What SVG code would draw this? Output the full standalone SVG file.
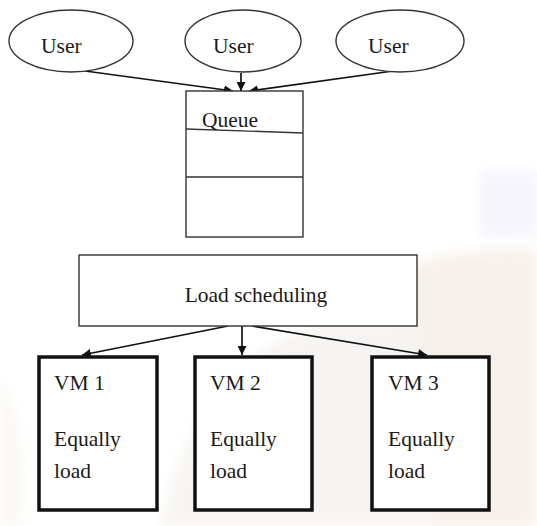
<svg xmlns="http://www.w3.org/2000/svg" width="537" height="526" viewBox="0 0 537 526">
  <defs>
    <marker id="arrow" viewBox="0 0 10 10" refX="10" refY="5" markerWidth="9" markerHeight="9" markerUnits="userSpaceOnUse" orient="auto">
      <path d="M0,0 L10,5 L0,10 z" fill="#111"/>
    </marker>
    <filter id="soft" x="-20%" y="-20%" width="140%" height="140%">
      <feGaussianBlur stdDeviation="6"/>
    </filter>
    <style>
      .lbl { font-size: 21.5px; fill: #1a1a1a; }
      .thin { fill: #fff; stroke: #333; stroke-width: 1.4; }
      .thick { fill: #fff; stroke: #111; stroke-width: 3.5; }
      .wire { fill: none; stroke: #111; stroke-width: 1.7; marker-end: url(#arrow); }
      .div { stroke: #333; stroke-width: 1.4; }
    </style>
  </defs>

  <!-- faint backdrop tones -->
  <rect width="537" height="526" fill="#fff"/>
  <g filter="url(#soft)" opacity="0.4">
    <path d="M390,270 Q470,245 537,250 L537,526 L380,526 Z" fill="#eadccb"/>
    <path d="M160,526 Q190,380 300,330 Q360,310 420,320 L430,526 Z" fill="#ebe6df"/>
    <rect x="480" y="172" width="57" height="64" fill="#e4e4f4"/>
    <path d="M0,380 Q30,420 20,526 L0,526 Z" fill="#f3eee4"/>
  </g>

  <!-- connectors -->
  <g id="connectors">
    <line class="wire" x1="85" y1="71" x2="233" y2="91"/>
    <line class="wire" x1="241" y1="73" x2="241" y2="91"/>
    <line class="wire" x1="393" y1="71" x2="249" y2="91"/>
    <line class="wire" x1="228" y1="326" x2="82" y2="355"/>
    <line class="wire" x1="242" y1="326" x2="242" y2="355"/>
    <line class="wire" x1="252" y1="326" x2="427" y2="355"/>
  </g>

  <g font-family="'Liberation Serif', 'DejaVu Serif', 'Times New Roman', serif">
    <!-- users -->
    <g id="user1">
      <ellipse class="thin" cx="71" cy="41" rx="62" ry="31"/>
      <text class="lbl" x="41" y="53">User</text>
    </g>
    <g id="user2">
      <ellipse class="thin" cx="243" cy="41" rx="58" ry="31"/>
      <text class="lbl" x="213" y="53">User</text>
    </g>
    <g id="user3">
      <ellipse class="thin" cx="400" cy="41" rx="64" ry="31"/>
      <text class="lbl" x="368" y="53">User</text>
    </g>

    <!-- queue -->
    <g id="queue">
      <rect class="thin" x="186" y="91" width="117" height="146"/>
      <line class="div" x1="186" y1="129" x2="303" y2="133"/>
      <line class="div" x1="186" y1="177" x2="303" y2="177"/>
      <text class="lbl" x="202" y="127">Queue</text>
    </g>

    <!-- scheduler -->
    <g id="load-scheduling">
      <rect class="thin" x="79" y="255" width="338" height="71"/>
      <text class="lbl" x="256" y="302" text-anchor="middle">Load scheduling</text>
    </g>

    <!-- virtual machines -->
    <g id="vm1">
      <rect class="thick" x="39" y="357" width="118" height="153"/>
      <text class="lbl" x="54" y="390">VM 1</text>
      <text class="lbl" x="54" y="446">Equally</text>
      <text class="lbl" x="54" y="478">load</text>
    </g>
    <g id="vm2">
      <rect class="thick" x="195" y="357" width="117" height="153"/>
      <text class="lbl" x="210" y="390">VM 2</text>
      <text class="lbl" x="210" y="446">Equally</text>
      <text class="lbl" x="210" y="478">load</text>
    </g>
    <g id="vm3">
      <rect class="thick" x="372" y="357" width="117" height="153"/>
      <text class="lbl" x="388" y="390">VM 3</text>
      <text class="lbl" x="388" y="446">Equally</text>
      <text class="lbl" x="388" y="478">load</text>
    </g>
  </g>
</svg>
